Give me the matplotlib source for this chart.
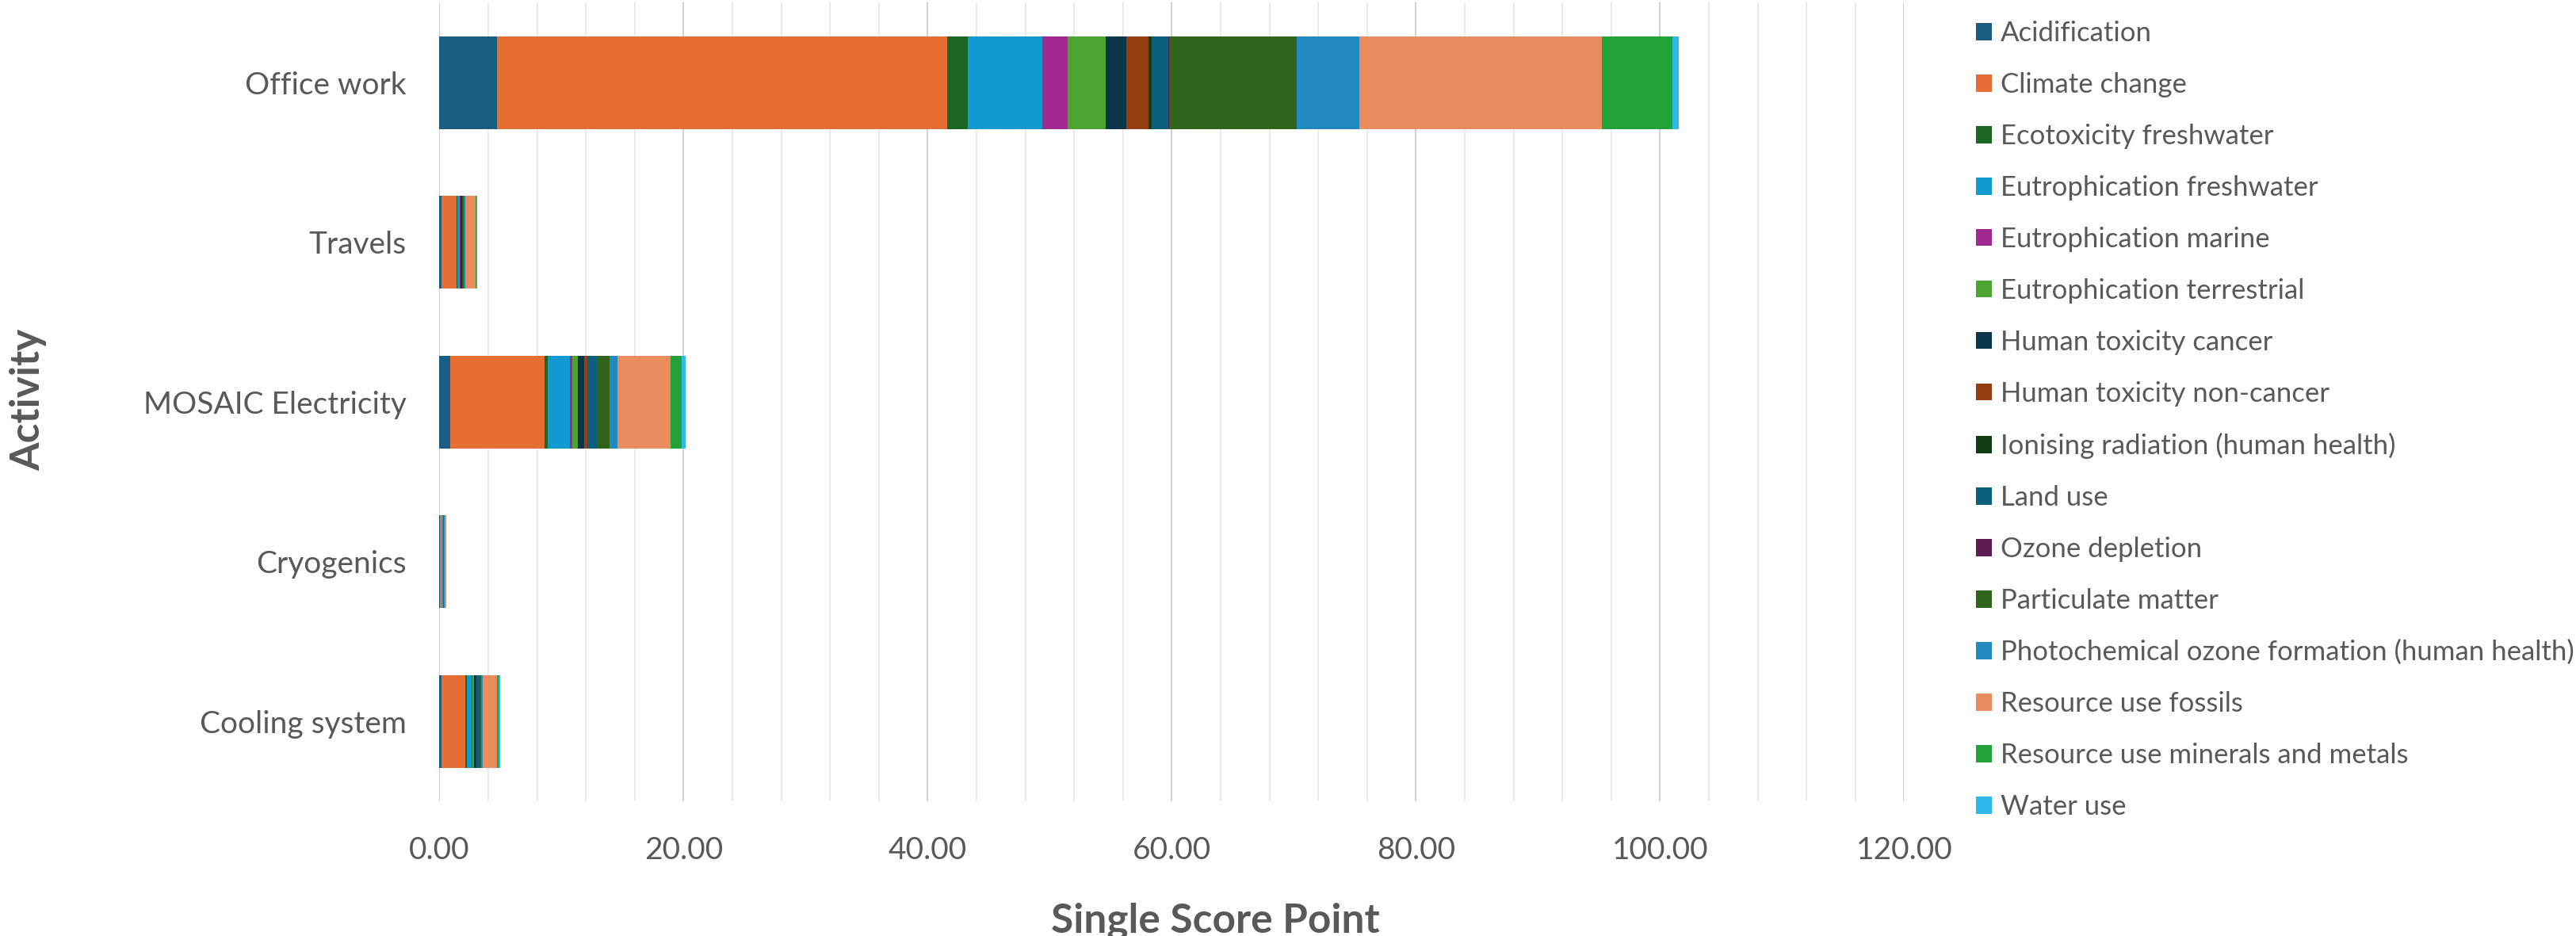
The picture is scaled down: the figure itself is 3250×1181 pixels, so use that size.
import matplotlib.pyplot as plt
from matplotlib.ticker import MultipleLocator, FormatStrFormatter
import numpy as np

activities = ['Office work', 'Travels', 'MOSAIC Electricity', 'Cryogenics', 'Cooling system']

impacts = ['Acidification', 'Climate change', 'Ecotoxicity freshwater',
           'Eutrophication freshwater', 'Eutrophication marine',
           'Eutrophication terrestrial', 'Human toxicity cancer',
           'Human toxicity non-cancer', 'Ionising radiation (human health)',
           'Land use', 'Ozone depletion', 'Particulate matter',
           'Photochemical ozone formation (human health)',
           'Resource use fossils', 'Resource use minerals and metals', 'Water use']

# single score points per impact category, same order as impacts
office_work = [4.69, 36.90, 1.68, 6.10, 2.08, 3.15, 1.68, 1.81, 0.25, 1.40, 0.02, 10.47, 5.16, 19.86, 5.77, 0.54]
travels = [0.15, 1.28, 0.06, 0.18, 0.03, 0.05, 0.04, 0.03, 0.01, 0.08, 0.00, 0.05, 0.17, 0.80, 0.12, 0.03]
mosaic_electricity = [0.86, 7.74, 0.28, 1.81, 0.21, 0.41, 0.52, 0.26, 0.03, 0.77, 0.01, 1.03, 0.65, 4.37, 0.91, 0.28]
cryogenics = [0.02, 0.20, 0.01, 0.06, 0.01, 0.01, 0.01, 0.01, 0.00, 0.02, 0.00, 0.02, 0.03, 0.14, 0.01, 0.03]
cooling_system = [0.17, 1.96, 0.13, 0.38, 0.08, 0.11, 0.17, 0.06, 0.01, 0.22, 0.00, 0.15, 0.10, 1.15, 0.17, 0.09]

colors = ['#195E82', '#E66E33', '#1C6623', '#109AD1', '#A0288F', '#4EA431',
          '#0B354A', '#973D12', '#113D12', '#0A5F7E', '#5E1A52', '#30641B',
          '#2089BE', '#EB8C5E', '#22A33A', '#2DB8EC']

values = np.array([office_work, travels, mosaic_electricity, cryogenics, cooling_system])

plt.rcParams['font.family'] = ['Lato', 'DejaVu Sans']
grey = '#595959'

fig = plt.figure(figsize=(32.5, 11.81), dpi=100)
ax = fig.add_axes([0.1706, 0.1439, 0.5686, 0.8533])

y = np.arange(len(activities))
left = np.zeros(len(activities))
for i, name in enumerate(impacts):
    ax.barh(y, values[:, i], left=left, height=0.58, color=colors[i], label=name, zorder=3)
    left += values[:, i]

ax.set_xlim(0, 120)
ax.set_ylim(len(activities) - 0.5, -0.5)
ax.set_yticks(y)
ax.set_yticklabels(activities)
ax.xaxis.set_major_locator(MultipleLocator(20))
ax.xaxis.set_minor_locator(MultipleLocator(4))
ax.xaxis.set_major_formatter(FormatStrFormatter('%.2f'))
ax.grid(axis='x', which='major', color='#D0D0D0', linewidth=1.4, zorder=0)
ax.grid(axis='x', which='minor', color='#EBEBEB', linewidth=1.4, zorder=0)
ax.tick_params(axis='both', which='both', length=0, labelsize=28, labelcolor=grey)
ax.tick_params(axis='x', pad=32)
ax.tick_params(axis='y', pad=30)
for s in ax.spines.values():
    s.set_visible(False)

fig.text(36 / 3250, 1 - 504 / 1181, 'Activity', rotation=90, ha='center', va='center',
         fontsize=37, fontweight='bold', color=grey)
fig.text(1533 / 3250, 4 / 1181, 'Single Score Point', ha='center', va='baseline',
         fontsize=37, fontweight='bold', color=grey)

fig.legend(loc='upper left', bbox_to_anchor=(2493 / 3250, 1 - 26 / 1181), frameon=False,
           fontsize=25, labelcolor=grey, handlelength=0.58, handleheight=0.58,
           handletextpad=0.30, labelspacing=0.95, borderaxespad=0, borderpad=0)

fig.savefig('out.png', dpi=100)
